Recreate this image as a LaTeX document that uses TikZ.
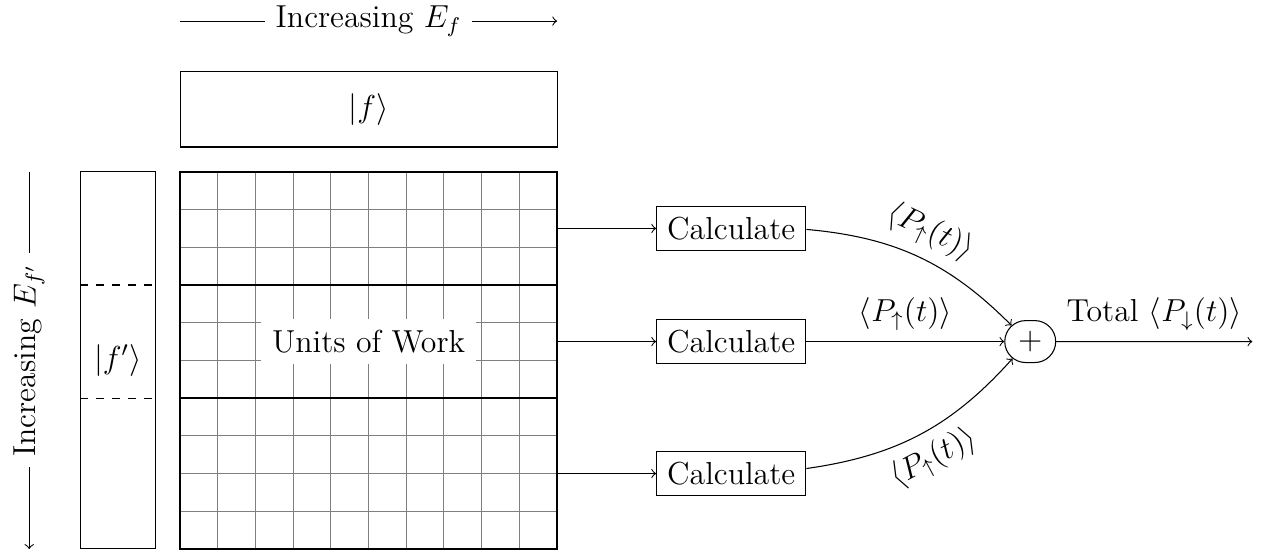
\documentclass[12pt,tikz,border=0pt]{standalone}
\usetikzlibrary{shapes.misc}
\begin{document}
\begin{tikzpicture}[x=0.5cm,y=0.5cm,
  calcbox/.style={draw, rectangle, inner sep=4pt},
  gridline/.style={gray, thin},
  partline/.style={thick},
  flow/.style={->},
  plusnode/.style={draw, rounded rectangle, inner sep=4pt, minimum height=15.8pt, minimum width=19.2pt},
  gaplabel/.style={fill=white, inner sep=4pt}]
\useasboundingbox (-4.775,-0.053) rectangle (28.83,14.56);
% grid of work units
\draw[gridline, step=0.5cm] (0,0) grid (10,10);
\draw[partline] (0,0) rectangle (10,10);
\draw[partline] (0,4) -- (10,4);
\draw[partline] (0,7) -- (10,7);
\node[gaplabel] (uw) at (5,5.5) {Units of Work};
% |f> box
\node[draw, rectangle, minimum width=5cm, minimum height=1cm, inner sep=0pt] (fbox) at (5,11.66) {$|f\rangle$};
% |f'> box
\node[draw, rectangle, minimum width=1cm, minimum height=5cm, inner sep=0pt] (fpbox) at (-1.65,5) {$|f'\rangle$};
\coordinate (d1l) at (-2.65,7); \coordinate (d1r) at (-0.65,7);
\coordinate (d2l) at (-2.65,4); \coordinate (d2r) at (-0.65,4);
\draw[dashed] (d1l) -- (d1r);
\draw[dashed] (d2l) -- (d2r);
% axis arrows
\coordinate (tA) at (0,14); \coordinate (tB) at (10,14);
\draw[flow] (tA) -- node[gaplabel] {Increasing $E_f$} (tB);
\coordinate (lA) at (-4,10); \coordinate (lB) at (-4,0);
\draw[flow] (lA) -- node[gaplabel, rotate=90] {Increasing $E_{f'}$} (lB);
% calculate nodes
\node[calcbox] (c1) at (14.62,8.5) {Calculate};
\node[calcbox] (c2) at (14.62,5.5) {Calculate};
\node[calcbox] (c3) at (14.62,2) {Calculate};
\coordinate (g1) at (10,8.5);
\coordinate (g2) at (10,5.5);
\coordinate (g3) at (10,2);
\draw[flow] (g1) -- (c1);
\draw[flow] (g2) -- (c2);
\draw[flow] (g3) -- (c3);
% sum
\node[plusnode] (plus) at (22.55,5.5) {$+$};
\draw[flow] (c1) to[bend left=20] node[sloped, above] {$\langle P_\uparrow(t)\rangle$} (plus);
\draw[flow] (c2) -- node[above] {$\langle P_\uparrow(t)\rangle$} (plus);
\draw[flow] (c3) to[bend right=20] node[sloped, below] {$\langle P_\uparrow(t)\rangle$} (plus);
\coordinate (out) at (28.44,5.5);
\draw[flow] (plus) -- node[above] {Total $\langle P_\downarrow(t)\rangle$} (out);
\end{tikzpicture}
\end{document}
